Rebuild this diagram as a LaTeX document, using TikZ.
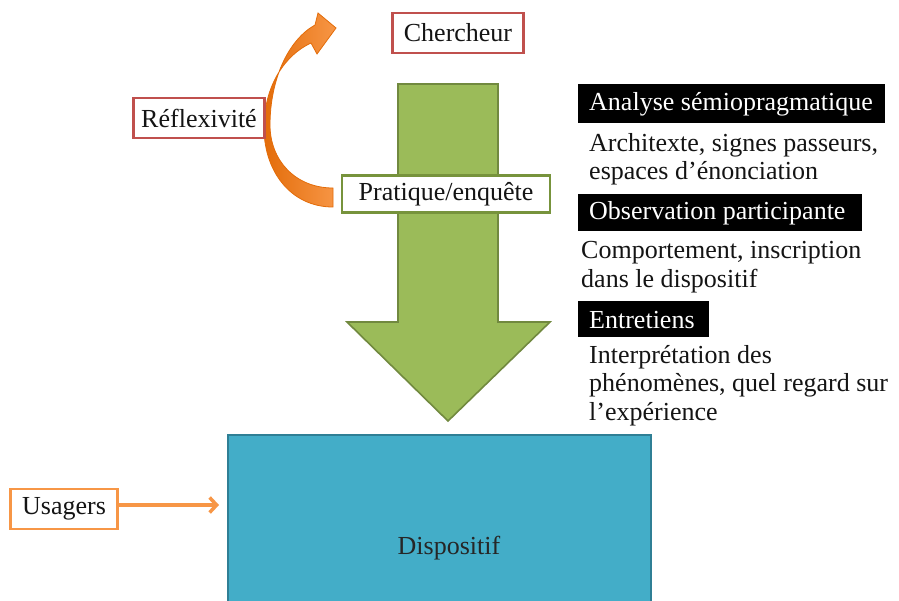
\documentclass[tikz,border=0pt]{standalone}
\usepackage{fontspec}
\setmainfont{Liberation Serif}
\usetikzlibrary{arrows.meta}
\definecolor{redb}{HTML}{C0504D}
\definecolor{greenb}{HTML}{77933C}
\definecolor{greenf}{HTML}{9BBB59}
\definecolor{greend}{HTML}{71893F}
\definecolor{orangeb}{HTML}{F79646}
\definecolor{oranged}{HTML}{E36C09}
\definecolor{bluef}{HTML}{43ADC8}
\definecolor{blued}{HTML}{2F7F95}
\definecolor{txt}{HTML}{141414}
\tikzset{
  lbl/.style={font=\fontsize{26}{29}\selectfont, text=txt},
  frame/.style={lbl, draw=#1, line width=2.4pt, fill=white, inner sep=0pt},
  blackbox/.style={fill=black, inner sep=0pt, anchor=north west},
  headtxt/.style={text=white, font=\fontsize{26}{29}\selectfont, inner sep=0pt, anchor=west},
  body/.style={lbl, anchor=base west, inner sep=0pt},
}
\begin{document}
\begin{tikzpicture}[x=1pt,y=-1pt]
\useasboundingbox (0,0) rectangle (899,600);
% green block arrow
\draw[fill=greenf, draw=greend, line width=1.6pt]
  (398,84) -- (498,84) -- (498,322) -- (550,322) -- (448,421) -- (347,322) -- (398,322) -- cycle;
% Dispositif
\node[draw=blued, fill=bluef, line width=2pt, minimum width=423pt, minimum height=180pt,
      anchor=north west, inner sep=0pt] (disp) at (227,434) {};
\node[lbl, text=black!85] (dispt) at (449,548) {Dispositif};
% curved orange arrow
\shade[left color=oranged, right color=orangeb, draw=oranged, line width=0.8pt]
  (333,207) .. controls (290,207) and (263,170) .. (264,125)
  .. controls (265,85) and (285,55) .. (311,43) -- (317,54) -- (336,28) -- (318,13) -- (315,25)
  .. controls (288,40) and (270,80) .. (270,125)
  .. controls (270,160) and (295,188) .. (333,188) -- cycle;
% framed labels
\node[frame=redb, minimum width=131pt, minimum height=40pt] (cher) at (458,33) {Chercheur};
\node[frame=redb, minimum width=131pt, minimum height=40pt] (refl) at (199,118) {Réflexivité};
\node[frame=greenb, minimum width=208pt, minimum height=37pt] (prat) at (446,194) {Pratique/enquête};
\node[frame=orangeb, minimum width=107pt, minimum height=40pt] (usag) at (64,509) {Usagers};
\coordinate (usagend) at (219,505);
\draw[orangeb, line width=3.5pt, -{Straight Barb[length=7pt,width=15pt]}] (usag.east |- usagend) -- (usagend);
% black headings
\node[blackbox, minimum width=307pt, minimum height=39pt] (h1) at (578,84) {};
\node[headtxt] (h1t) at ([xshift=11pt,yshift=-1pt]h1.west) {Analyse sémiopragmatique};
\node[blackbox, minimum width=284pt, minimum height=37pt] (h2) at (578,194) {};
\node[headtxt] (h2t) at ([xshift=11pt,yshift=-1pt]h2.west) {Observation participante};
\node[blackbox, minimum width=131pt, minimum height=36pt] (h3) at (578,301) {};
\node[headtxt] (h3t) at ([xshift=11pt,yshift=-1pt]h3.west) {Entretiens};
% descriptions
\node[body] (d1a) at (589,151) {Architexte, signes passeurs,};
\node[body] (d1b) at (589,179) {espaces d’énonciation};
\node[body] (d2a) at (581,258) {Comportement, inscription};
\node[body] (d2b) at (581,287) {dans le dispositif};
\node[body] (d3a) at (589,363) {Interprétation des};
\node[body] (d3b) at (589,391) {phénomènes, quel regard sur};
\node[body] (d3c) at (589,420) {l’expérience};
\end{tikzpicture}
\end{document}
